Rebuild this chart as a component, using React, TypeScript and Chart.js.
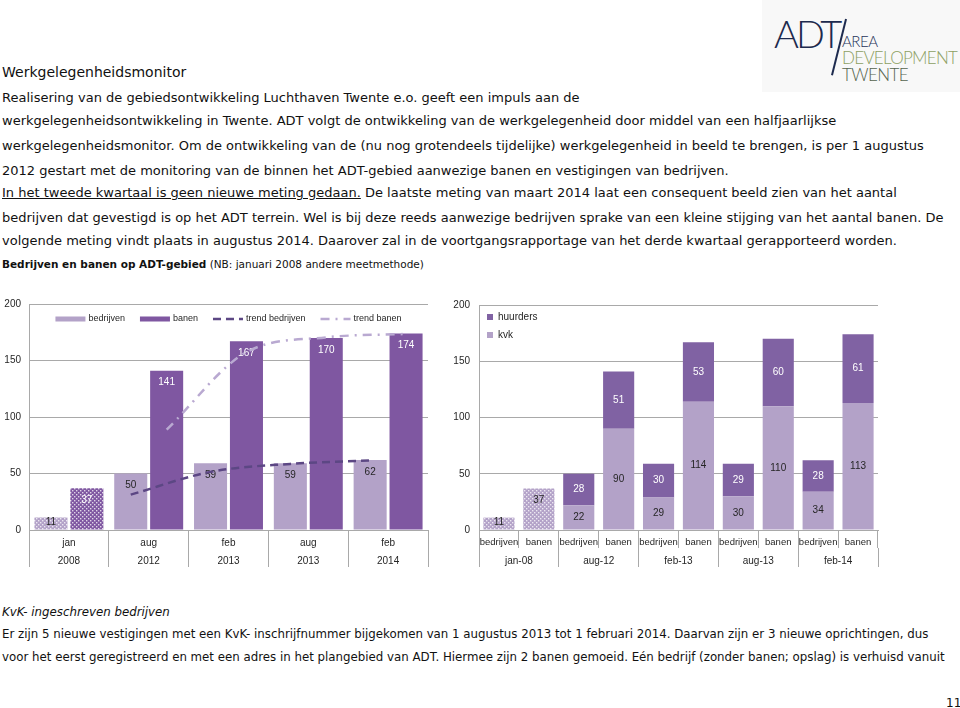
import React, { useEffect, useRef } from 'react';
import { Chart, registerables } from 'chart.js';

Chart.register(...registerables);

// ---------- data ----------
const periodMonths = ['jan', 'aug', 'feb', 'aug', 'feb'];
const periodYears = ['2008', '2012', '2013', '2013', '2014'];
const bedrijven = [11, 50, 59, 59, 62];
const banen = [37, 141, 167, 170, 174];
const trendBedrijven = [null, 31, 51, 58, 61];
const trendBanen = [null, 88, 156, 169, 172];

const subCategories = ['bedrijven', 'banen', 'bedrijven', 'banen', 'bedrijven', 'banen', 'bedrijven', 'banen', 'bedrijven', 'banen'];
const periodGroups = ['jan-08', 'aug-12', 'feb-13', 'aug-13', 'feb-14'];
const kvk = [null, null, 22, 90, 29, 114, 30, 110, 34, 113];
const huurders = [null, null, 28, 51, 30, 53, 29, 60, 28, 61];
const jan08 = [11, 37, null, null, null, null, null, null, null, null];

const yMin = 0;
const yMax = 200;
const yStep = 50;

// ---------- styles ----------
const FONT = '"Liberation Sans", Arial, sans-serif';
const TEXT = '#262626';
const GRID = '#a9a9a9';
const LIGHT = '#b3a2c8';
const DARK = '#7f57a1';
const DARK_R = '#8062a3';
const TREND_DARK = '#5c4784';
const TREND_LIGHT = '#b9a9d1';
const CAT_PCT_LEFT = 0.9;
const BAR_PCT_LEFT = 0.92;

// left chart geometry (canvas px)
const L_W = 440;
const L_H = 290;
const L_YAXIS_W = 29;
const L_XAXIS_H = 37;
const PAD = { top: 12, right: 12, bottom: 13 };

const trendStyles = [
  { label: 'trend bedrijven', values: trendBedrijven, color: TREND_DARK, dash: [8, 5], side: -1 },
  { label: 'trend banen', values: trendBanen, color: TREND_LIGHT, dash: [9, 6, 2, 6], side: 1 },
];

function dotPattern(ctx: CanvasRenderingContext2D, base: string) {
  const c = document.createElement('canvas');
  c.width = 4;
  c.height = 4;
  const g = c.getContext('2d')!;
  g.fillStyle = base;
  g.fillRect(0, 0, 4, 4);
  g.fillStyle = 'rgba(255,255,255,0.75)';
  g.fillRect(0, 0, 1.4, 1.4);
  g.fillRect(2, 2, 1.4, 1.4);
  return ctx.createPattern(c, 'repeat') as CanvasPattern;
}

const barLabels = {
  id: 'barLabels',
  afterDatasetsDraw(chart: any) {
    const ctx = chart.ctx;
    ctx.save();
    ctx.font = `10px ${FONT}`;
    ctx.textAlign = 'center';
    ctx.textBaseline = 'middle';
    chart.data.datasets.forEach((ds: any, i: number) => {
      const lab = ds.valueLabel;
      if (!lab) return;
      const meta = chart.getDatasetMeta(i);
      meta.data.forEach((el: any, j: number) => {
        const v = ds.data[j];
        if (v == null) return;
        const { x, y, base } = el.getProps(['x', 'y', 'base'], true);
        const ty = lab.pos === 'center' ? (y + base) / 2 : Math.min(y + 12, base - 7);
        ctx.fillStyle = Array.isArray(lab.color) ? lab.color[j] : lab.color;
        ctx.fillText(String(v), x, ty);
      });
    });
    ctx.restore();
  },
};

const inlineLegend = {
  id: 'inlineLegend',
  afterDraw(chart: any, _args: any, opts: any) {
    if (!opts || !opts.display) return;
    const { ctx, chartArea } = chart;
    ctx.save();
    ctx.font = `${opts.fontSize}px ${FONT}`;
    ctx.textBaseline = 'middle';
    ctx.textAlign = 'left';
    const items = opts.items.map((it: any) => ({ ...it, w: ctx.measureText(it.label).width }));
    const total =
      items.reduce((s: number, it: any) => s + opts.swatch + opts.textGap + it.w, 0) +
      opts.itemGap * (items.length - 1);
    let x = (chartArea.left + chartArea.right) / 2 - total / 2;
    const y = chartArea.top + opts.offsetY;
    items.forEach((it: any) => {
      if (it.kind === 'line') {
        ctx.strokeStyle = it.color;
        ctx.lineWidth = it.width;
        ctx.setLineDash(it.dash || []);
        ctx.beginPath();
        ctx.moveTo(x, y);
        ctx.lineTo(x + opts.swatch, y);
        ctx.stroke();
        ctx.setLineDash([]);
      } else {
        ctx.fillStyle = it.color;
        ctx.fillRect(x, y - opts.boxH / 2, opts.swatch, opts.boxH);
      }
      x += opts.swatch + opts.textGap;
      ctx.fillStyle = opts.color;
      ctx.fillText(it.label, x, y);
      x += it.w + opts.itemGap;
    });
    ctx.restore();
  },
};

function yAxis(width: number, padding: number, stacked: boolean) {
  return {
    stacked,
    min: yMin,
    max: yMax,
    ticks: { stepSize: yStep, padding, color: TEXT, font: { family: FONT, size: 10 } },
    grid: { color: GRID, drawTicks: false },
    border: { color: GRID },
    afterFit: (s: any) => {
      s.width = width;
    },
  };
}

function LeftChart() {
  const ref = useRef<HTMLCanvasElement>(null);
  useEffect(() => {
    const canvas = ref.current!;
    const ctx = canvas.getContext('2d')!;
    const patLight = dotPattern(ctx, LIGHT);
    const patDark = dotPattern(ctx, DARK);
    const chart = new Chart(canvas, {
      type: 'bar',
      data: {
        labels: periodMonths.map((m, i) => [m, periodYears[i]]),
        datasets: [
          {
            label: 'bedrijven',
            data: bedrijven,
            backgroundColor: bedrijven.map((_, i) => (i === 0 ? patLight : LIGHT)),
            valueLabel: { color: TEXT, pos: 'end' },
            categoryPercentage: CAT_PCT_LEFT,
            barPercentage: BAR_PCT_LEFT,
          } as any,
          {
            label: 'banen',
            data: banen,
            backgroundColor: banen.map((_, i) => (i === 0 ? patDark : DARK)),
            valueLabel: { color: '#ffffff', pos: 'end' },
            categoryPercentage: CAT_PCT_LEFT,
            barPercentage: BAR_PCT_LEFT,
          } as any,
        ],
      },
      options: {
        animation: false,
        responsive: false,
        maintainAspectRatio: false,
        layout: { padding: { top: PAD.top, right: PAD.right, bottom: PAD.bottom, left: 0 } },
        plugins: {
          legend: { display: false },
          tooltip: { enabled: false },
          inlineLegend: {
            display: true,
            fontSize: 9,
            swatch: 30,
            textGap: 3,
            itemGap: 15,
            boxH: 5,
            offsetY: 15,
            color: TEXT,
            items: [
              { label: 'bedrijven', kind: 'box', color: LIGHT },
              { label: 'banen', kind: 'box', color: DARK },
              ...trendStyles.map((t) => ({ label: t.label, kind: 'line', color: t.color, dash: t.dash, width: 2.5 })),
            ],
          },
        } as any,
        scales: {
          x: {
            type: 'category',
            offset: true,
            grid: { offset: true, drawOnChartArea: false, tickLength: L_XAXIS_H, color: GRID },
            border: { color: GRID },
            ticks: { padding: -33.4, color: TEXT, font: { family: FONT, size: 10, lineHeight: 1.87 }, maxRotation: 0, autoSkip: false },
            afterFit: (s: any) => {
              s.height = L_XAXIS_H;
            },
          },
          y: yAxis(L_YAXIS_W, 8, false),
        } as any,
      },
      plugins: [inlineLegend, barLabels],
    });
    return () => chart.destroy();
  }, []);
  return <canvas ref={ref} width={L_W} height={L_H} style={{ width: L_W, height: L_H, display: 'block' }} />;
}

// Trend lines drawn by a transparent line chart laid exactly over the bar chart's plot area.
function LeftTrendOverlay() {
  const ref = useRef<HTMLCanvasElement>(null);
  useEffect(() => {
    const shift = CAT_PCT_LEFT / 4; // bar centre offset, in category units
    const chart = new Chart(ref.current!, {
      type: 'line',
      data: {
        datasets: trendStyles.map((t) => ({
          label: t.label,
          data: t.values
            .map((v, i) => (v == null ? null : { x: i + t.side * shift, y: v }))
            .filter((p) => p !== null) as any,
          borderColor: t.color,
          borderWidth: 2.5,
          borderDash: t.dash,
          pointRadius: 0,
          fill: false,
          cubicInterpolationMode: 'monotone',
        })) as any,
      },
      options: {
        animation: false,
        responsive: false,
        maintainAspectRatio: false,
        layout: {
          padding: { top: PAD.top, right: PAD.right, bottom: PAD.bottom + L_XAXIS_H, left: L_YAXIS_W },
        },
        plugins: { legend: { display: false }, tooltip: { enabled: false } },
        scales: {
          x: { type: 'linear', display: false, min: -0.5, max: periodMonths.length - 0.5 },
          y: { type: 'linear', display: false, min: yMin, max: yMax },
        },
      },
    });
    return () => chart.destroy();
  }, []);
  return (
    <canvas
      ref={ref}
      width={L_W}
      height={L_H}
      style={{ position: 'absolute', left: 0, top: 0, width: L_W, height: L_H, display: 'block', pointerEvents: 'none' }}
    />
  );
}

function RightChart() {
  const ref = useRef<HTMLCanvasElement>(null);
  useEffect(() => {
    const canvas = ref.current!;
    const ctx = canvas.getContext('2d')!;
    const patLight = dotPattern(ctx, LIGHT);
    const chart = new Chart(canvas, {
      type: 'bar',
      data: {
        labels: subCategories,
        datasets: [
          {
            label: 'kvk',
            data: kvk,
            backgroundColor: LIGHT,
            valueLabel: { color: TEXT, pos: 'center' },
            categoryPercentage: 1,
            barPercentage: 0.78,
          } as any,
          {
            label: 'huurders',
            data: huurders,
            backgroundColor: DARK_R,
            valueLabel: { color: '#ffffff', pos: 'center' },
            categoryPercentage: 1,
            barPercentage: 0.78,
          } as any,
          {
            label: 'jan-08',
            data: jan08,
            backgroundColor: patLight,
            valueLabel: { color: TEXT, pos: 'end' },
            categoryPercentage: 1,
            barPercentage: 0.78,
          } as any,
        ],
      },
      options: {
        animation: false,
        responsive: false,
        maintainAspectRatio: false,
        layout: { padding: { top: PAD.top, right: PAD.right, bottom: PAD.bottom, left: 0 } },
        plugins: {
          tooltip: { enabled: false },
          legend: {
            position: 'chartArea',
            align: 'start',
            reverse: true,
            title: { display: true, text: '', font: { size: 1, lineHeight: 1 }, padding: { top: 13, bottom: 0 } },
            labels: {
              boxWidth: 6,
              boxHeight: 6,
              padding: 8,
              color: TEXT,
              font: { family: FONT, size: 10 },
              filter: (item: any) => item.text !== 'jan-08',
            },
          },
        } as any,
        scales: {
          x: {
            type: 'category',
            stacked: true,
            offset: true,
            weight: 0,
            grid: { offset: true, drawOnChartArea: false, tickLength: 18, color: GRID },
            border: { color: GRID },
            ticks: { padding: -11.7, color: TEXT, font: { family: FONT, size: 9.5, lineHeight: 1.2 }, maxRotation: 0, autoSkip: false },
            afterFit: (s: any) => {
              s.height = 18;
            },
          },
          x2: {
            type: 'category',
            labels: periodGroups,
            offset: true,
            weight: 1,
            position: 'bottom',
            grid: { offset: true, drawOnChartArea: false, tickLength: 19, color: GRID },
            border: { display: false },
            ticks: { padding: -11.3, color: TEXT, font: { family: FONT, size: 10, lineHeight: 1.2 }, maxRotation: 0, autoSkip: false },
            afterFit: (s: any) => {
              s.height = 19;
            },
          },
          y: yAxis(39, 9, true),
        } as any,
      },
      plugins: [barLabels],
    });
    return () => chart.destroy();
  }, []);
  return <canvas ref={ref} width={450} height={290} style={{ width: 450, height: 290, display: 'block' }} />;
}

const BODY_FONT = '"DejaVu Sans", Verdana, sans-serif';

function Line({ center, children, style }: { center: number; children: React.ReactNode; style?: React.CSSProperties }) {
  return (
    <div
      style={{
        position: 'absolute',
        left: 2,
        top: center - 9,
        lineHeight: '18px',
        whiteSpace: 'nowrap',
        fontFamily: BODY_FONT,
        fontSize: 13,
        color: '#111',
        ...style,
      }}
    >
      {children}
    </div>
  );
}

export default function App() {
  return (
    <div style={{ position: 'absolute', left: 0, top: 0, width: 960, height: 708, background: '#fff', overflow: 'hidden' }}>
      {/* logo */}
      <div style={{ position: 'absolute', left: 762, top: 0, width: 198, height: 92, background: '#f8f8f8' }}>
        <div style={{ position: 'absolute', left: 12, top: 14, fontFamily: 'Lato, "DejaVu Sans", sans-serif', fontWeight: 300, fontSize: 38, lineHeight: '38px', color: '#1d2a4e', letterSpacing: -3 }}>
          ADT
        </div>
        <div style={{ position: 'absolute', left: 76, top: 18, width: 1.5, height: 58, background: '#1d2a4e', transform: 'rotate(14deg)' }} />
        <div style={{ position: 'absolute', left: 80, top: 34, fontFamily: 'Lato, "DejaVu Sans", sans-serif', fontWeight: 300, fontSize: 15, lineHeight: '15px', color: '#27345a', letterSpacing: -0.5 }}>
          AREA
        </div>
        <div style={{ position: 'absolute', left: 80, top: 49, fontFamily: 'Lato, "DejaVu Sans", sans-serif', fontWeight: 300, fontSize: 17, lineHeight: '17px', color: '#8da062', letterSpacing: -0.7 }}>
          DEVELOPMENT
        </div>
        <div style={{ position: 'absolute', left: 80, top: 66, fontFamily: 'Lato, "DejaVu Sans", sans-serif', fontWeight: 300, fontSize: 17, lineHeight: '17px', color: '#55644e', letterSpacing: -0.6 }}>
          TWENTE
        </div>
      </div>

      <Line center={72} style={{ fontSize: 14 }}>Werkgelegenheidsmonitor</Line>
      <Line center={98}>Realisering van de gebiedsontwikkeling Luchthaven Twente e.o. geeft een impuls aan de</Line>
      <Line center={121}>
        werkgelegenheidsontwikkeling in Twente. ADT volgt de ontwikkeling van de werkgelegenheid door middel van een halfjaarlijkse
      </Line>
      <Line center={146}>
        werkgelegenheidsmonitor. Om de ontwikkeling van de (nu nog grotendeels tijdelijke) werkgelegenheid in beeld te brengen, is per 1 augustus
      </Line>
      <Line center={171}>2012 gestart met de monitoring van de binnen het ADT-gebied aanwezige banen en vestigingen van bedrijven.</Line>
      <Line center={193}>
        <span style={{ textDecoration: 'underline' }}>In het tweede kwartaal is geen nieuwe meting gedaan.</span> De laatste meting van maart 2014 laat een consequent beeld zien van het aantal
      </Line>
      <Line center={218}>
        bedrijven dat gevestigd is op het ADT terrein. Wel is bij deze reeds aanwezige bedrijven sprake van een kleine stijging van het aantal banen. De
      </Line>
      <Line center={241}>
        volgende meting vindt plaats in augustus 2014. Daarover zal in de voortgangsrapportage van het derde kwartaal gerapporteerd worden.
      </Line>
      <Line center={264} style={{ fontSize: 10.5 }}>
        <span style={{ fontWeight: 'bold' }}>Bedrijven en banen op ADT-gebied</span> (NB: januari 2008 andere meetmethode)
      </Line>

      <div style={{ position: 'absolute', left: 0, top: 290, width: L_W, height: L_H }}>
        <LeftChart />
        <LeftTrendOverlay />
      </div>
      <div style={{ position: 'absolute', left: 440, top: 290, width: 450, height: 290 }}>
        <RightChart />
      </div>

      <Line center={612} style={{ fontStyle: 'italic', fontSize: 11.8 }}>KvK- ingeschreven bedrijven</Line>
      <Line center={634} style={{ fontSize: 11.8 }}>
        Er zijn 5 nieuwe vestigingen met een KvK- inschrijfnummer bijgekomen van 1 augustus 2013 tot 1 februari 2014. Daarvan zijn er 3 nieuwe oprichtingen, dus
      </Line>
      <Line center={657} style={{ fontSize: 11.8 }}>
        voor het eerst geregistreerd en met een adres in het plangebied van ADT. Hiermee zijn 2 banen gemoeid. Eén bedrijf (zonder banen; opslag) is verhuisd vanuit
      </Line>
      <Line center={703} style={{ left: 946, fontSize: 12 }}>11</Line>
    </div>
  );
}
